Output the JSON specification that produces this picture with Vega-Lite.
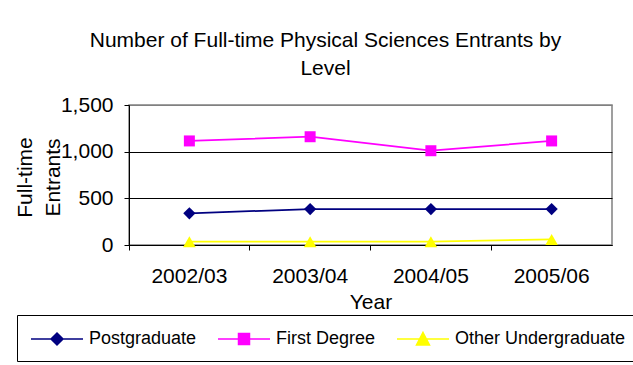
{
  "$schema": "https://vega.github.io/schema/vega-lite/v6.json",
  "width": 483,
  "height": 140,
  "autosize": {"type": "none"},
  "padding": {"left": 129, "top": 105, "right": 21, "bottom": 120},
  "background": "white",
  "config": {
    "font": "Liberation Sans",
    "view": {"stroke": "#808080", "strokeWidth": 1.5}
  },
  "title": {
    "text": ["Number of Full-time Physical Sciences Entrants by", "Level"],
    "fontSize": 21,
    "fontWeight": "normal",
    "color": "black",
    "anchor": "middle",
    "frame": "group",
    "dx": -45,
    "offset": 15,
    "lineHeight": 28
  },
  "data": {
    "values": [
      {"year": "2002/03", "series": "Postgraduate", "entrants": 340},
      {"year": "2003/04", "series": "Postgraduate", "entrants": 385},
      {"year": "2004/05", "series": "Postgraduate", "entrants": 385},
      {"year": "2005/06", "series": "Postgraduate", "entrants": 385},
      {"year": "2002/03", "series": "First Degree", "entrants": 1115},
      {"year": "2003/04", "series": "First Degree", "entrants": 1160},
      {"year": "2004/05", "series": "First Degree", "entrants": 1010},
      {"year": "2005/06", "series": "First Degree", "entrants": 1115},
      {"year": "2002/03", "series": "Other Undergraduate", "entrants": 35},
      {"year": "2003/04", "series": "Other Undergraduate", "entrants": 35},
      {"year": "2004/05", "series": "Other Undergraduate", "entrants": 35},
      {"year": "2005/06", "series": "Other Undergraduate", "entrants": 60}
    ]
  },
  "encoding": {
    "x": {
      "field": "year",
      "type": "ordinal",
      "scale": {"type": "band", "paddingInner": 0, "paddingOuter": 0},
      "axis": {
        "title": "Year",
        "titleFontSize": 21,
        "titleFontWeight": "normal",
        "titleColor": "black",
        "titlePadding": 5,
        "labelFontSize": 21,
        "labelColor": "black",
        "labelAngle": 0,
        "labelPadding": 15,
        "bandPosition": 0,
        "tickSize": 5,
        "tickColor": "black",
        "domainColor": "black",
        "grid": false
      }
    },
    "y": {
      "field": "entrants",
      "type": "quantitative",
      "scale": {"domain": [0, 1500], "nice": false},
      "axis": {
        "values": [0, 500, 1000, 1500],
        "format": ",.0f",
        "title": ["Full-time", "Entrants"],
        "titleFontSize": 21,
        "titleFontWeight": "normal",
        "titleColor": "black",
        "titleAngle": -90,
        "titleAlign": "center",
        "titleBaseline": "alphabetic",
        "titleLineHeight": 28,
        "titleX": -98,
        "titleY": 72,
        "labelFontSize": 21,
        "labelColor": "black",
        "labelPadding": 11,
        "tickSize": 5,
        "tickColor": "black",
        "domainColor": "black",
        "grid": true,
        "gridColor": {"condition": {"test": "datum.value == 1500", "value": "#808080"}, "value": "black"},
        "gridWidth": 1
      }
    }
  },
  "layer": [
    {
      "mark": {"type": "line", "strokeWidth": 1.75},
      "encoding": {
        "color": {
          "field": "series",
          "type": "nominal",
          "scale": {"domain": ["Postgraduate", "First Degree", "Other Undergraduate"], "range": ["#000080", "#FF00FF", "#FFFF00"]}
        }
      }
    },
    {
      "transform": [{"filter": "datum.series === 'Postgraduate'"}],
      "mark": {"type": "point", "shape": "diamond", "filled": true, "opacity": 1, "size": 150, "color": "#000080"}
    },
    {
      "transform": [{"filter": "datum.series === 'First Degree'"}],
      "mark": {"type": "point", "shape": "square", "filled": true, "opacity": 1, "size": 121, "color": "#FF00FF"}
    },
    {
      "transform": [{"filter": "datum.series === 'Other Undergraduate'"}],
      "mark": {"type": "point", "shape": "triangle-up", "filled": true, "opacity": 1, "size": 160, "color": "#FFFF00"}
    },
    {
      "mark": {"type": "point", "filled": true, "opacity": 0},
      "encoding": {
        "color": {
          "field": "series",
          "type": "nominal",
          "legend": {
            "title": null,
            "orient": "none",
            "legendX": -112,
            "legendY": 210,
            "direction": "horizontal",
            "strokeColor": "black",
            "padding": 13,
            "symbolSize": 400,
            "symbolOffset": 16,
            "symbolOpacity": 1,
            "symbolStrokeWidth": 1.5,
            "labelFontSize": 18,
            "labelColor": "black",
            "labelLimit": 400,
            "labelOffset": 21,
            "columnPadding": 18,
            "encode": {
              "symbols": {
                "update": {
                  "fill": {"scale": "color", "field": "value"},
                  "stroke": {"scale": "color", "field": "value"},
                  "opacity": {"value": 1}
                }
              }
            }
          }
        },
        "shape": {
          "field": "series",
          "type": "nominal",
          "scale": {
            "domain": ["Postgraduate", "First Degree", "Other Undergraduate"],
            "range": [
              "M-2.6,0H2.6M0,-0.6L0.6,0L0,0.6L-0.6,0Z",
              "M-2.6,0H2.6M-0.55,-0.55H0.55V0.55H-0.55Z",
              "M-2.6,0H2.6M0,-0.65L0.65,0.6H-0.65Z"
            ]
          },
          "legend": {
            "title": null,
            "orient": "none",
            "legendX": -112,
            "legendY": 210,
            "direction": "horizontal",
            "strokeColor": "black",
            "padding": 13,
            "symbolSize": 400,
            "symbolOffset": 16,
            "symbolOpacity": 1,
            "symbolStrokeWidth": 1.5,
            "labelFontSize": 18,
            "labelColor": "black",
            "labelLimit": 400,
            "labelOffset": 21,
            "columnPadding": 18,
            "encode": {
              "symbols": {
                "update": {
                  "fill": {"scale": "color", "field": "value"},
                  "stroke": {"scale": "color", "field": "value"},
                  "opacity": {"value": 1}
                }
              }
            }
          }
        }
      }
    }
  ]
}
